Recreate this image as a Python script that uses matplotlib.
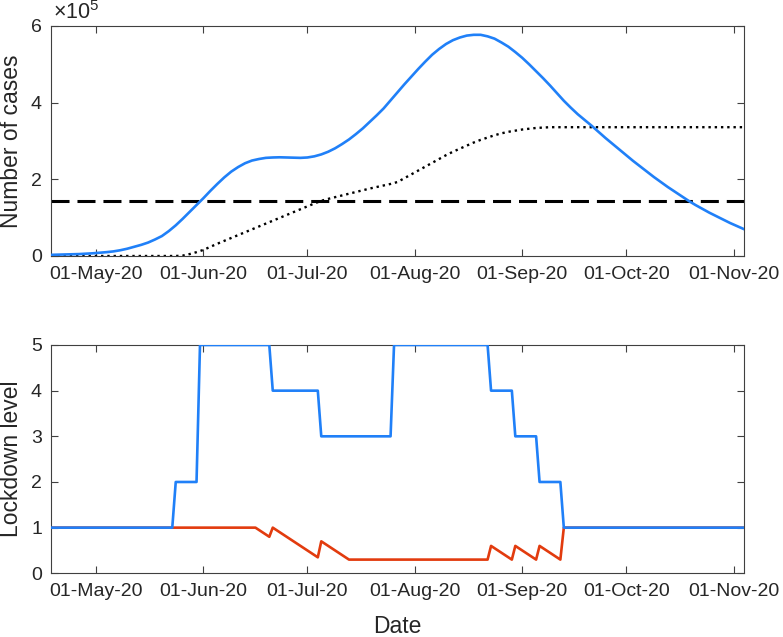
import numpy as np
import matplotlib
matplotlib.use("Agg")
import matplotlib.pyplot as plt
import matplotlib.dates as mdates

plt.rcParams['font.family'] = ['Liberation Sans', 'DejaVu Sans']
plt.rcParams['mathtext.fontset'] = 'custom'
plt.rcParams['mathtext.rm'] = 'Liberation Sans'

# ---------------- data ----------------
start_date = np.datetime64('2020-04-18')
end_day = 200

case_days = list(range(0, 201, 2))
# active cases (x 1e5), blue solid line
active_e5 = [0.03, 0.035, 0.04, 0.045, 0.05, 0.06, 0.07, 0.085, 0.10, 0.12,
             0.15, 0.19, 0.24, 0.29, 0.35, 0.43, 0.52, 0.65, 0.80, 0.97,
             1.15, 1.33, 1.51, 1.70, 1.88, 2.05, 2.20, 2.32, 2.42, 2.49,
             2.53, 2.56, 2.57, 2.575, 2.57, 2.565, 2.56, 2.57, 2.60, 2.65,
             2.72, 2.81, 2.92, 3.04, 3.18, 3.33, 3.50, 3.67, 3.85, 4.06,
             4.27, 4.48, 4.68, 4.88, 5.07, 5.25, 5.40, 5.53, 5.63, 5.70,
             5.75, 5.77, 5.77, 5.73, 5.67, 5.57, 5.46, 5.32, 5.17, 5.00,
             4.82, 4.64, 4.45, 4.25, 4.05, 3.87, 3.70, 3.55, 3.40, 3.24,
             3.08, 2.93, 2.78, 2.63, 2.48, 2.34, 2.20, 2.06, 1.93, 1.80,
             1.68, 1.56, 1.44, 1.33, 1.23, 1.13, 1.04, 0.95, 0.86, 0.78,
             0.70]
# dotted black line (x 1e5)
dotted_e5 = [0.0, 0.0, 0.0, 0.0, 0.0, 0.0, 0.0, 0.0, 0.0, 0.0,
             0.0, 0.0, 0.0, 0.0, 0.0, 0.0, 0.0, 0.0, 0.0, 0.01,
             0.05, 0.10, 0.16, 0.24, 0.32, 0.395, 0.47, 0.545, 0.62, 0.695,
             0.77, 0.845, 0.92, 0.995, 1.07, 1.145, 1.22, 1.295, 1.37, 1.44,
             1.49, 1.535, 1.58, 1.625, 1.67, 1.715, 1.76, 1.80, 1.84, 1.88,
             1.93, 2.03, 2.13, 2.23, 2.33, 2.43, 2.53, 2.63, 2.72, 2.80,
             2.88, 2.96, 3.03, 3.09, 3.15, 3.20, 3.24, 3.27, 3.30, 3.32,
             3.34, 3.35, 3.36, 3.36, 3.36, 3.36, 3.36, 3.36, 3.36, 3.36,
             3.36, 3.36, 3.36, 3.36, 3.36, 3.36, 3.36, 3.36, 3.36, 3.36,
             3.36, 3.36, 3.36, 3.36, 3.36, 3.36, 3.36, 3.36, 3.36, 3.36,
             3.36]
threshold_e5 = 1.44   # dashed black line

# lockdown level (blue)
level_days = [0, 35, 36, 42, 43, 63, 64, 77, 78, 98, 99, 126, 127, 133, 134, 140,
              141, 147, 148, 200]
level_blue = [1, 1, 2, 2, 5, 5, 4, 4, 3, 3, 5, 5, 4, 4, 3, 3, 2, 2, 1, 1]
# lockdown level (red)
red_days = [0, 59, 63, 64, 77, 78, 86, 126, 127, 133, 134, 140, 141, 147, 148, 200]
level_red = [1, 1, 0.8, 1.0, 0.35, 0.7, 0.3, 0.3, 0.6, 0.3, 0.6, 0.3, 0.6, 0.3, 1, 1]

def to_dates(days):
    return start_date + np.array(days, dtype='timedelta64[D]')

blue = '#2080f8'
red = '#e23b0e'
axcol = '#404040'
txtcol = '#262626'

fig = plt.figure(figsize=(7.83, 6.37), dpi=100)
W, H = 783.0, 637.0
ax1 = fig.add_axes([51 / W, 1 - 256 / H, 693 / W, 230 / H])
ax2 = fig.add_axes([51 / W, 1 - 573.3 / H, 693 / W, 228.3 / H])

ax1.plot(to_dates(case_days), active_e5, color=blue, lw=1.9, zorder=3)
ax1.plot(to_dates(case_days), dotted_e5, color='black', lw=1.7, ls=':', zorder=2)
ax1.plot(to_dates([0, end_day]), [threshold_e5, threshold_e5], color='black',
         lw=2.2, dashes=(5.9, 2.6), zorder=2)

ax2.plot(to_dates(red_days), level_red, color=red, lw=1.9, zorder=2)
ax2.plot(to_dates(level_days), level_blue, color=blue, lw=1.9, zorder=3)

for ax in (ax1, ax2):
    ax.set_xlim(to_dates([0, end_day]))
    ax.xaxis.set_major_locator(mdates.MonthLocator(bymonthday=1))
    ax.xaxis.set_major_formatter(mdates.DateFormatter('%d-%b-%y'))
    ax.tick_params(direction='in', top=True, right=True, length=5, width=0.8,
                   color=axcol, labelsize=14, labelcolor=txtcol)
    ax.tick_params(axis='x', pad=7)
    ax.tick_params(axis='y', pad=6.5)
    for s in ax.spines.values():
        s.set_color(axcol)
        s.set_linewidth(0.8)

ax1.set_ylim(0, 6)
ax1.set_yticks([0, 2, 4, 6])
ax1.set_ylabel('Number of cases', fontsize=16.5, color=txtcol)
ax1.yaxis.set_label_coords(-0.041, 0.5)
ax1.text(0.003, 1.008, r'$\times10^{5}$', transform=ax1.transAxes, fontsize=15.5,
         color=txtcol, ha='left', va='bottom')

ax2.set_ylim(0, 5)
ax2.set_yticks([0, 1, 2, 3, 4, 5])
ax2.set_ylabel('Lockdown level', fontsize=16.5, color=txtcol)
ax2.yaxis.set_label_coords(-0.041, 0.5)
ax2.set_xlabel('Date', fontsize=16.5, color=txtcol, labelpad=10.5)

fig.savefig('out.png', dpi=100)
